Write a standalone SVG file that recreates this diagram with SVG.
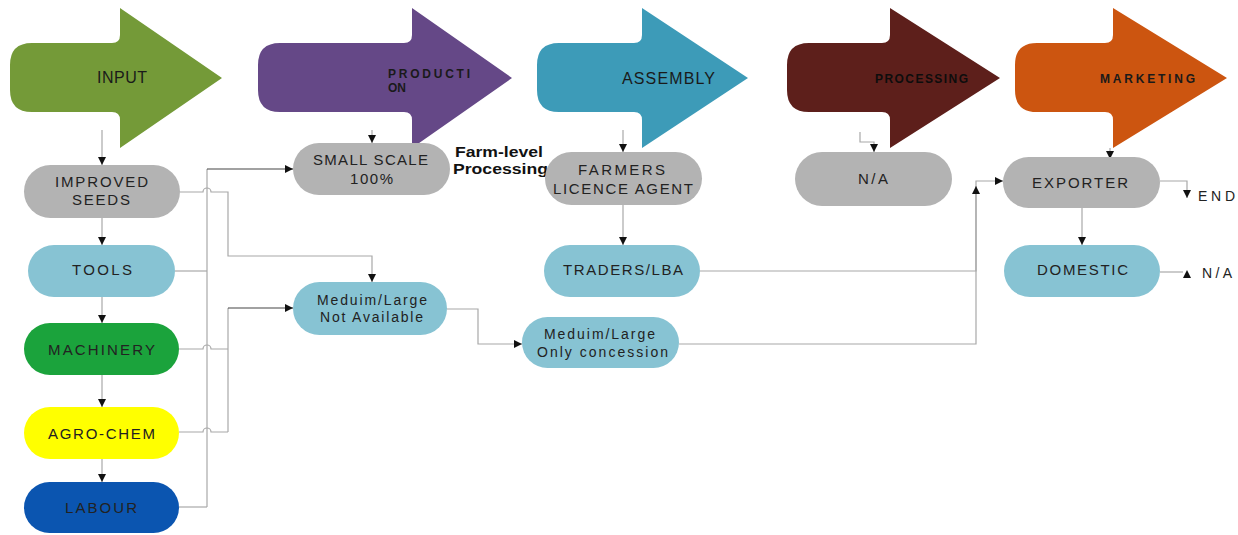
<svg xmlns="http://www.w3.org/2000/svg" width="1238" height="535" viewBox="0 0 1238 535">
<defs>
<marker id="ah" viewBox="0 0 8 8" refX="8" refY="4" markerWidth="8" markerHeight="8" markerUnits="userSpaceOnUse" orient="auto">
<path d="M0,0 L8,4 L0,8 z" fill="#111"/>
</marker>
<style>
.stage text{font-family:"Liberation Sans",Arial,sans-serif;fill:#1a1a1a;text-anchor:start}
.stage .sm{font-size:12px;font-weight:bold}
.node text{font-family:"Liberation Sans",Arial,sans-serif;font-size:15px;fill:#222;text-anchor:start}
.gray{fill:#b3b3b3}
.lblue{fill:#87c3d3}
.c{fill:none;stroke:#a8a8a8;stroke-width:1.2}
.cd{fill:none;stroke:#444;stroke-width:1.2}
.note{font-family:"Liberation Sans",Arial,sans-serif;font-size:14px;font-weight:bold;fill:#111}
.small{font-family:"Liberation Sans",Arial,sans-serif;font-size:14px;fill:#222}
</style>
</defs>
<rect width="1238" height="535" fill="#fff"/>

<g id="stage-input" class="stage">
<path d="M10,65 Q10,43 32,43 H112 Q120,43 120,35 V8 L222,78 L120,148 V120 Q120,112 112,112 H32 Q10,112 10,90 Z" fill="#749a38"/>
<text x="97" y="83" font-size="16" textLength="50" lengthAdjust="spacing">INPUT</text>
</g>
<g id="stage-production" class="stage">
<path d="M258,65 Q258,43 280,43 H404 Q412,43 412,35 V8 L512,78 L412,148 V120 Q412,112 404,112 H280 Q258,112 258,90 Z" fill="#654887"/>
<text class="sm" x="388" y="78" textLength="82" lengthAdjust="spacing">PRODUCTI</text>
<text class="sm" x="388" y="92" textLength="18" lengthAdjust="spacing">ON</text>
</g>
<g id="stage-assembly" class="stage">
<path d="M537,65 Q537,43 559,43 H634 Q642,43 642,35 V8 L748,78 L642,148 V120 Q642,112 634,112 H559 Q537,112 537,90 Z" fill="#3d9bb8"/>
<text x="622" y="84" font-size="16" textLength="93" lengthAdjust="spacing">ASSEMBLY</text>
</g>
<g id="stage-processing" class="stage">
<path d="M787,65 Q787,43 809,43 H882 Q890,43 890,35 V8 L1000,78 L890,148 V120 Q890,112 882,112 H809 Q787,112 787,90 Z" fill="#5d1f1b"/>
<text class="sm" x="875" y="83" textLength="93" lengthAdjust="spacing" style="fill:#0d0d0d">PROCESSING</text>
</g>
<g id="stage-marketing" class="stage">
<path d="M1015,65 Q1015,43 1037,43 H1105 Q1113,43 1113,35 V8 L1227,78 L1113,148 V120 Q1113,112 1105,112 H1037 Q1015,112 1015,90 Z" fill="#cc5510"/>
<text class="sm" x="1100" y="83" textLength="95" lengthAdjust="spacing">MARKETING</text>
</g>

<g id="connectors">
<path class="c" d="M102,130 V165" marker-end="url(#ah)"/>
<path class="c" d="M102,218 V245" marker-end="url(#ah)"/>
<path class="c" d="M102,297 V323" marker-end="url(#ah)"/>
<path class="c" d="M102,375 V407" marker-end="url(#ah)"/>
<path class="c" d="M102,459 V482" marker-end="url(#ah)"/>
<path class="c" d="M207,169 V507"/>
<path class="cd" d="M207,169 H293" marker-end="url(#ah)"/>
<path class="c" d="M175,271 H207"/>
<path class="c" d="M179,507 H207"/>
<path class="c" d="M180,192 H203 A4,4 0 0 1 211,192 H228 V256 H372 V282" marker-end="url(#ah)"/>
<path class="c" d="M179,349 H203 A4,4 0 0 1 211,349 H228"/>
<path class="c" d="M179,432 H203 A4,4 0 0 1 211,432 H228"/>
<path class="c" d="M228,432 V308"/>
<path class="cd" d="M228,308 H293" marker-end="url(#ah)"/>
<path class="c" d="M372,130 V143" marker-end="url(#ah)"/>
<path class="c" d="M447,309 H478 V344 H522" marker-end="url(#ah)"/>
<path class="c" d="M679,344 H976 V181 H1003" marker-end="url(#ah)"/>
<path class="c" d="M700,271 H976 V186" marker-end="url(#ah)"/>
<path class="c" d="M623,130 V152" marker-end="url(#ah)"/>
<path class="c" d="M623,205 V245" marker-end="url(#ah)"/>
<path class="c" d="M860,132 V142 H874 V152" marker-end="url(#ah)"/>
<path class="c" d="M1110,148 V159" marker-end="url(#ah)"/>
<path class="c" d="M1082,208 V245" marker-end="url(#ah)"/>
<path class="c" d="M1160,181 H1187 V198" marker-end="url(#ah)"/>
<path class="c" d="M1160,272 H1183"/>
<path d="M1183,278 L1191,278 L1187,270 Z" fill="#111"/>
</g>

<g id="improved-seeds" class="node">
<rect x="24" y="165" width="156" height="53" rx="26.5" class="gray"/>
<text x="55" y="187" textLength="93" lengthAdjust="spacing">IMPROVED</text>
<text x="72" y="205" textLength="58" lengthAdjust="spacing">SEEDS</text>
</g>
<g id="tools" class="node">
<rect x="28" y="245" width="147" height="52" rx="26" class="lblue"/>
<text x="72" y="275" textLength="60" lengthAdjust="spacing">TOOLS</text>
</g>
<g id="machinery" class="node">
<rect x="24" y="323" width="155" height="52" rx="26" fill="#1ba33c"/>
<text x="48" y="355" textLength="107" lengthAdjust="spacing">MACHINERY</text>
</g>
<g id="agro-chem" class="node">
<rect x="24" y="407" width="155" height="52" rx="26" fill="#ffff00"/>
<text x="48" y="439" textLength="107" lengthAdjust="spacing">AGRO-CHEM</text>
</g>
<g id="labour" class="node">
<rect x="24" y="482" width="155" height="51" rx="25.5" fill="#0b55b0"/>
<text x="65" y="513" textLength="72" lengthAdjust="spacing">LABOUR</text>
</g>
<g id="small-scale" class="node">
<rect x="293" y="143" width="157" height="52" rx="26" class="gray"/>
<text x="313" y="165" textLength="115" lengthAdjust="spacing">SMALL SCALE</text>
<text x="350" y="184" textLength="43" lengthAdjust="spacing">100%</text>
</g>
<g id="farm-level-note">
<text class="note" x="455" y="157" textLength="88" lengthAdjust="spacingAndGlyphs">Farm-level</text>
<text class="note" x="453" y="174" textLength="95" lengthAdjust="spacingAndGlyphs">Processing</text>
</g>
<g id="medium-large-na" class="node">
<rect x="293" y="282" width="154" height="53" rx="26.5" class="lblue"/>
<text x="317" y="305" style="font-size:14px" textLength="110" lengthAdjust="spacing">Meduim/Large</text>
<text x="320" y="322" style="font-size:14px" textLength="103" lengthAdjust="spacing">Not Available</text>
</g>
<g id="medium-large-concession" class="node">
<rect x="522" y="317" width="157" height="51" rx="25.5" class="lblue"/>
<text x="544" y="339" style="font-size:14px" textLength="111" lengthAdjust="spacing">Meduim/Large</text>
<text x="537" y="357" style="font-size:14px" textLength="131" lengthAdjust="spacing">Only concession</text>
</g>
<g id="farmers-licence-agent" class="node">
<rect x="545" y="152" width="157" height="53" rx="26.5" class="gray"/>
<text x="578" y="175" textLength="87" lengthAdjust="spacing">FARMERS</text>
<text x="553" y="194" textLength="140" lengthAdjust="spacing">LICENCE AGENT</text>
</g>
<g id="traders-lba" class="node">
<rect x="544" y="245" width="156" height="52" rx="26" class="lblue"/>
<text x="563" y="275" textLength="120" lengthAdjust="spacing">TRADERS/LBA</text>
</g>
<g id="processing-na" class="node">
<rect x="795" y="152" width="157" height="54" rx="27" class="gray"/>
<text x="858" y="184" textLength="30" lengthAdjust="spacing">N/A</text>
</g>
<g id="exporter" class="node">
<rect x="1003" y="157" width="157" height="51" rx="25.5" class="gray"/>
<text x="1032" y="188" textLength="96" lengthAdjust="spacing">EXPORTER</text>
</g>
<g id="domestic" class="node">
<rect x="1004" y="245" width="156" height="52" rx="26" class="lblue"/>
<text x="1037" y="275" textLength="91" lengthAdjust="spacing">DOMESTIC</text>
</g>
<g id="end-label">
<text class="small" x="1198" y="201" textLength="37" lengthAdjust="spacing">END</text>
</g>
<g id="na-label">
<text class="small" x="1202" y="278" textLength="30" lengthAdjust="spacing">N/A</text>
</g>
</svg>
